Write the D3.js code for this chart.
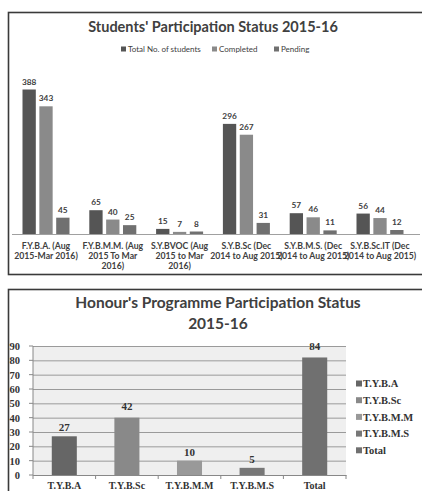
<!DOCTYPE html>
<html lang="en">
<head>
<meta charset="utf-8">
<style>
  body { margin: 0; background: #fff; }
  svg { display: block; font-family: 'Lato', sans-serif; }
</style>
</head>
<body>
<div id="chart"></div>
<script src="https://d3js.org/d3.v7.min.js"></script>
<script>
// top chart data
var courses = [
  ["F.Y.B.A. (Aug", "2015-Mar 2016)"],
  ["F.Y.B.M.M. (Aug", "2015 To Mar", "2016)"],
  ["S.Y.BVOC (Aug", "2015 to Mar", "2016)"],
  ["S.Y.B.Sc (Dec", "2014 to Aug 2015)"],
  ["S.Y.B.M.S. (Dec", "2014 to Aug 2015)"],
  ["S.Y.B.Sc.IT (Dec", "2014 to Aug 2015)"]
];
var seriesNames = ["Total No. of students", "Completed", "Pending"];
var totalStudents = [388, 65, 15, 296, 57, 56];
var completed = [343, 40, 7, 267, 46, 44];
var pending = [45, 25, 8, 31, 11, 12];

// bottom chart data
var honourCats = ["T.Y.B.A", "T.Y.B.Sc", "T.Y.B.M.M", "T.Y.B.M.S", "Total"];
var honourBars = [27, 40, 10, 5, 82];      // bar heights as drawn
var honourLabels = [27, 42, 10, 5, 84];    // numbers printed above bars
var yTicks = [0, 10, 20, 30, 40, 50, 60, 70, 80, 90];

var W = 422, H = 491;
var svg = d3.select("#chart").append("svg")
  .attr("width", W).attr("height", H);

svg.append("rect").attr("width", W).attr("height", H).attr("fill", "#fff");

// ---------- top chart ----------
var topG = svg.append("g");
topG.append("rect")
  .attr("x", 8.5).attr("y", 12.5).attr("width", 430).attr("height", 262)
  .attr("fill", "#fff").attr("stroke", "#3a3a3a").attr("stroke-width", 1.6);

topG.append("text")
  .attr("x", 213).attr("y", 32)
  .attr("text-anchor", "middle")
  .attr("font-weight", "bold").attr("font-size", 14.5)
  .attr("fill", "#404040")
  .text("Students' Participation Status 2015-16");

var topColors = ["#555555", "#8a8a8a", "#707070"];
var legX = [121, 212, 274];
seriesNames.forEach(function(s, i) {
  topG.append("rect").attr("x", legX[i]).attr("y", 46.5)
    .attr("width", 5).attr("height", 5).attr("fill", topColors[i]);
  topG.append("text").attr("x", legX[i] + 7).attr("y", 52)
    .attr("font-size", 8).attr("fill", "#404040").text(s);
});

var rows = courses.map(function(c, i) {
  return { key: i, lines: c, vals: [totalStudents[i], completed[i], pending[i]] };
});

var x0 = d3.scaleBand().domain(d3.range(courses.length)).range([12.6, 413.4]);
var x1 = d3.scaleBand().domain(d3.range(3)).range([9.9, x0.bandwidth() - 9.9]).paddingInner(0.21);
var y1 = d3.scaleLinear().domain([0, 388]).range([234.5, 89.5]);

var grp = topG.selectAll("g.grp").data(rows).enter().append("g")
  .attr("class", "grp")
  .attr("transform", function(d) { return "translate(" + x0(d.key) + ",0)"; });

grp.selectAll("rect").data(function(d) { return d.vals; }).enter().append("rect")
  .attr("x", function(d, i) { return x1(i); })
  .attr("y", function(d) { return y1(d); })
  .attr("width", x1.bandwidth())
  .attr("height", function(d) { return y1(0) - y1(d); })
  .attr("fill", function(d, i) { return topColors[i]; });

grp.selectAll("text.val").data(function(d) { return d.vals; }).enter().append("text")
  .attr("class", "val")
  .attr("x", function(d, i) { return x1(i) + x1.bandwidth() / 2; })
  .attr("y", function(d) { return y1(d) - 5; })
  .attr("text-anchor", "middle")
  .attr("font-weight", "bold").attr("font-size", 8.3)
  .attr("fill", "#404040")
  .text(function(d) { return d; });

topG.append("line")
  .attr("x1", 12).attr("x2", 420).attr("y1", 234.5).attr("y2", 234.5)
  .attr("stroke", "#a0a0a0");

grp.each(function(d) {
  var t = d3.select(this).append("text")
    .attr("text-anchor", "middle")
    .attr("font-weight", "bold").attr("font-size", 8.7)
    .attr("fill", "#404040");
  d.lines.forEach(function(l, j) {
    t.append("tspan").attr("x", x0.bandwidth() / 2).attr("y", 249 + j * 10).text(l);
  });
});

// ---------- bottom chart ----------
var bot = svg.append("g");
bot.append("rect")
  .attr("x", 8.5).attr("y", 289.5).attr("width", 430).attr("height", 260)
  .attr("fill", "#fff").attr("stroke", "#3a3a3a").attr("stroke-width", 1.6);

bot.append("text")
  .attr("text-anchor", "middle")
  .attr("font-weight", "bold").attr("font-size", 15.5)
  .attr("fill", "#404040")
  .selectAll("tspan").data(["Honour's Programme Participation Status", "2015-16"]).enter()
  .append("tspan").attr("x", 218).attr("y", function(d, i) { return 308 + i * 21; })
  .text(function(d) { return d; });

var xb = d3.scaleBand().domain(honourCats).range([33, 346]).paddingInner(0.6).paddingOuter(0.3);
var xbFull = d3.scaleBand().domain(honourCats).range([33, 346]);
var yb = d3.scaleLinear().domain([0, 90]).range([475, 346]);

bot.append("rect")
  .attr("x", 33).attr("y", yb(90)).attr("width", 313).attr("height", yb(0) - yb(90))
  .attr("fill", "#efefef");

bot.append("g")
  .attr("transform", "translate(33,0)")
  .call(d3.axisLeft(yb).tickValues(yTicks).tickSize(-313).tickPadding(8).tickSizeOuter(0))
  .call(function(g) {
    g.select(".domain").remove();
    g.selectAll(".tick line").attr("stroke", "#9a9a9a");
    g.selectAll(".tick text")
      .attr("font-family", "'Liberation Serif', serif")
      .attr("font-weight", "bold").attr("font-size", 10.5)
      .attr("fill", "#333").attr("x", -13);
  });

// small outer tick marks on y axis
bot.selectAll("line.yt").data(yTicks).enter().append("line")
  .attr("x1", 29).attr("x2", 33)
  .attr("y1", function(d) { return yb(d); }).attr("y2", function(d) { return yb(d); })
  .attr("stroke", "#888");

bot.append("line").attr("x1", 33).attr("x2", 33).attr("y1", yb(90)).attr("y2", yb(0))
  .attr("stroke", "#888");

var botColors = ["#666666", "#898989", "#999999", "#777777", "#707070"];

bot.selectAll("rect.hb").data(honourBars).enter().append("rect")
  .attr("class", "hb")
  .attr("x", function(d, i) { return xb(honourCats[i]); })
  .attr("y", function(d) { return yb(d); })
  .attr("width", xb.bandwidth())
  .attr("height", function(d) { return yb(0) - yb(d); })
  .attr("fill", function(d, i) { return botColors[i]; });

bot.selectAll("text.hl").data(honourLabels).enter().append("text")
  .attr("class", "hl")
  .attr("x", function(d, i) { return xb(honourCats[i]) + xb.bandwidth() / 2; })
  .attr("y", function(d) { return yb(d) - 5; })
  .attr("text-anchor", "middle")
  .attr("font-family", "'Liberation Serif', serif")
  .attr("font-weight", "bold").attr("font-size", 11)
  .attr("fill", "#333")
  .text(function(d) { return d; });

bot.append("g")
  .attr("transform", "translate(0," + yb(0) + ")")
  .call(d3.axisBottom(xbFull).tickSize(0).tickPadding(7).tickSizeOuter(0))
  .call(function(g) {
    g.select(".domain").attr("stroke", "#888");
    g.selectAll(".tick text")
      .attr("font-family", "'Liberation Serif', serif")
      .attr("font-weight", "bold").attr("font-size", 10)
      .attr("fill", "#333");
  });

// category boundary ticks
bot.selectAll("line.xt").data(d3.range(honourCats.length + 1)).enter().append("line")
  .attr("x1", function(i) { return 33 + i * xbFull.step(); })
  .attr("x2", function(i) { return 33 + i * xbFull.step(); })
  .attr("y1", yb(0)).attr("y2", yb(0) + 4)
  .attr("stroke", "#888");

honourCats.forEach(function(c, i) {
  var yy = 383.5 + i * 16.7;
  bot.append("rect").attr("x", 356).attr("y", yy - 3)
    .attr("width", 6).attr("height", 6).attr("fill", botColors[i]);
  bot.append("text").attr("x", 363).attr("y", yy + 3.8)
    .attr("font-family", "'Liberation Serif', serif")
    .attr("font-weight", "bold").attr("font-size", 10.5)
    .attr("fill", "#333").text(c);
});
</script>
</body>
</html>
